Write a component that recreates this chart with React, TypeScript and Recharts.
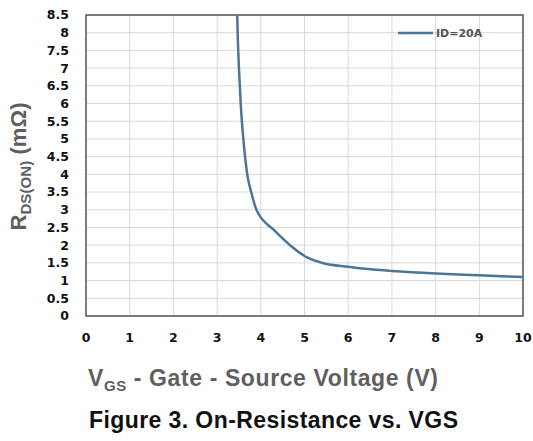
import { LineChart, Line, XAxis, YAxis, CartesianGrid, ReferenceArea } from "recharts"

// V_GS (V) and R_DS(on) (mOhm), ID = 20A
const vgs = [3.46, 3.47, 3.5, 3.54, 3.6, 3.64, 3.69, 3.78, 3.9, 3.95, 4.3, 4.67, 5.05, 5.43, 6.0, 6.57, 7.0, 8.0, 9.0, 10.0]
const rdsOn = [8.5, 8.0, 7.0, 6.0, 5.0, 4.5, 4.0, 3.5, 3.0, 2.88, 2.43, 2.0, 1.66, 1.49, 1.39, 1.31, 1.27, 1.2, 1.15, 1.1]

const xTicks = [0, 1, 2, 3, 4, 5, 6, 7, 8, 9, 10]
const yTicks = [0, 0.5, 1, 1.5, 2, 2.5, 3, 3.5, 4, 4.5, 5, 5.5, 6, 6.5, 7, 7.5, 8, 8.5]

const seriesName = "ID=20A"
const lineColor = "#4f7596"
const font = "'Liberation Sans', Arial, sans-serif"
const tickFont = "'DejaVu Sans', Verdana, sans-serif"

const data = vgs.map((v, i) => ({ vgs: v, rds: rdsOn[i] }))

const XTitle = (props: any) => {
  const vb = props.viewBox || {}
  const x0 = vb.x ?? 86
  const y0 = vb.y ?? 316
  return (
    <g fontFamily={font} fontWeight="bold">
      <text x={x0 + 2} y={y0 + 70} fill="#5f5f5f" fontSize={23} textLength={350} lengthAdjust="spacing">
        V<tspan fontSize={15} dy={5}>GS</tspan>
        <tspan dy={-5}> - Gate - Source Voltage (V)</tspan>
      </text>
      <text x={x0 + 3} y={y0 + 112} fill="#111" fontSize={23} textLength={369} lengthAdjust="spacing">
        Figure 3. On-Resistance vs. VGS
      </text>
    </g>
  )
}

const YTitle = (props: any) => {
  const vb = props.viewBox || {}
  const cy = (vb.y ?? 15) + (vb.height ?? 301) / 2 + 1
  return (
    <text
      x={0}
      y={0}
      transform={`translate(26, ${cy}) rotate(-90)`}
      textAnchor="middle"
      fontFamily={font}
      fontWeight="bold"
      fontSize={22}
      fill="#5f5f5f"
      textLength={128}
      lengthAdjust="spacing"
    >
      R<tspan fontSize={15} dy={5}>DS(ON)</tspan>
      <tspan dy={-5}> (mΩ)</tspan>
    </text>
  )
}

export default function App() {
  return (
    <div style={{ position: "absolute", left: 0, top: 0, width: 533, height: 441, background: "#fff" }}>
      <LineChart width={533} height={441} data={data} margin={{ top: 15, right: 10, left: 0, bottom: 0 }}>
        <CartesianGrid stroke="#d9d9d9" strokeWidth={1} />
        <XAxis
          dataKey="vgs"
          type="number"
          domain={[0, 10]}
          ticks={xTicks}
          interval={0}
          height={125}
          tickLine={false}
          tickSize={0}
          tickMargin={17}
          axisLine={false}
          tick={{ fill: "#111", fontSize: 12.5, fontWeight: "bold", fontFamily: tickFont }}
          label={<XTitle />}
        />
        <YAxis
          type="number"
          domain={[0, 8.5]}
          ticks={yTicks}
          interval={0}
          width={86}
          tickLine={false}
          tickSize={0}
          tickMargin={17}
          axisLine={false}
          tick={{ fill: "#111", fontSize: 12.5, fontWeight: "bold", fontFamily: tickFont }}
          label={<YTitle />}
        />
        <ReferenceArea x1={0} x2={10} y1={0} y2={8.5} fill="none" stroke="#555" strokeWidth={1.5} fillOpacity={0} />
        <Line
          type="monotone"
          dataKey="rds"
          name={seriesName}
          stroke={lineColor}
          strokeWidth={2.5}
          dot={false}
          isAnimationActive={false}
        />
      </LineChart>
      <svg width={110} height={20} style={{ position: "absolute", left: 396, top: 24 }}>
        <line x1={2} y1={9} x2={37} y2={9} stroke={lineColor} strokeWidth={2.5} />
        <text x={40} y={13} fontFamily={tickFont} fontSize={11} fontWeight="bold" fill="#555">
          {seriesName}
        </text>
      </svg>
    </div>
  )
}
